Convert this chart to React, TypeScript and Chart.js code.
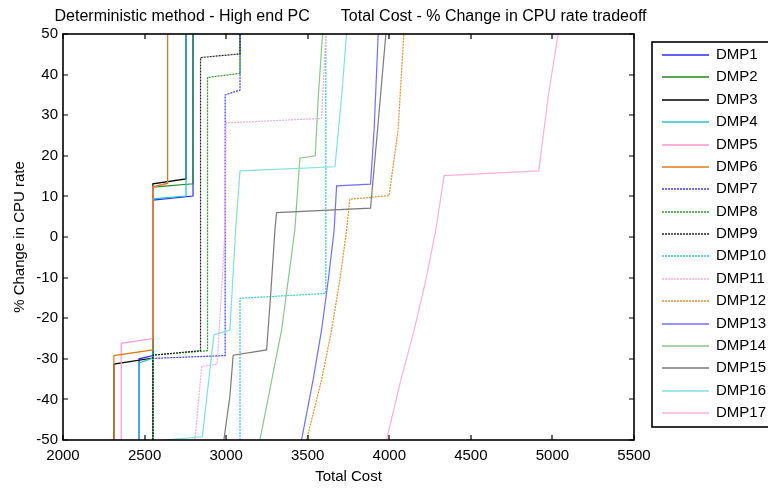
import React, { useEffect, useRef } from 'react';
import { Chart, registerables } from 'chart.js';

Chart.register(...registerables);

// ---- data (Total Cost vs % Change in CPU rate) ----
const seriesNames = ['DMP1', 'DMP2', 'DMP3', 'DMP4', 'DMP5', 'DMP6', 'DMP7', 'DMP8', 'DMP9', 'DMP10', 'DMP11', 'DMP12', 'DMP13', 'DMP14', 'DMP15', 'DMP16', 'DMP17'];

const dmp1Cost = [2466, 2466, 2551, 2551, 2797, 2797];
const dmp1Rate = [-50, -30, -29.2, 9.1, 10.1, 50];
const dmp2Cost = [2551, 2551, 2797, 2797];
const dmp2Rate = [-50, 12.3, 13.1, 50];
const dmp3Cost = [2312, 2312, 2551, 2551, 2754, 2754];
const dmp3Rate = [-50, -31.3, -29.8, 13.1, 14.3, 50];
const dmp4Cost = [2466, 2466, 2551, 2551, 2754, 2754];
const dmp4Rate = [-50, -31, -29.8, 9.4, 10.1, 50];
const dmp5Cost = [2357, 2357, 2551, 2551, 2641, 2641];
const dmp5Rate = [-50, -26.2, -25, 12.3, 13.3, 50];
const dmp6Cost = [2312, 2312, 2551, 2551, 2641, 2641];
const dmp6Rate = [-50, -29.2, -27.8, 12.4, 13.2, 50];
const dmp7Cost = [2551, 2551, 2994, 2994, 3085, 3085];
const dmp7Rate = [-50, -29.9, -29.2, 35, 36.2, 50];
const dmp8Cost = [2551, 2551, 2886, 2886, 3085, 3085];
const dmp8Rate = [-50, -29.1, -28, 39.3, 40.3, 50];
const dmp9Cost = [2551, 2551, 2843, 2843, 3085, 3085];
const dmp9Rate = [-50, -29.1, -28, 44.2, 45.1, 50];
const dmp10Cost = [3085, 3085, 3611, 3611];
const dmp10Rate = [-50, -15.1, -13.9, 50];
const dmp11Cost = [2809, 2850, 2945, 2993, 2999, 3585, 3611];
const dmp11Rate = [-50, -31.9, -31.3, 1.7, 28.1, 29.2, 50];
const dmp12Cost = [3493, 3585, 3646, 3697, 3738, 3758, 3999, 4054, 4089];
const dmp12Rate = [-50, -35.2, -22.9, -10.6, 1.7, 9.3, 10.2, 26.4, 50];
const dmp13Cost = [3462, 3533, 3585, 3626, 3662, 3677, 3885, 3907, 3932];
const dmp13Rate = [-50, -35.2, -22.9, -10.6, 1.7, 12.6, 13, 26.4, 50];
const dmp14Cost = [3207, 3340, 3421, 3452, 3546, 3565, 3591];
const dmp14Rate = [-50, -22.9, 1.7, 19.4, 20, 34.6, 50];
const dmp15Cost = [2986, 3023, 3043, 3248, 3272, 3299, 3309, 3885, 3928, 3979];
const dmp15Rate = [-50, -39.3, -29.1, -27.8, -14.7, 1.7, 6.0, 7.1, 26.4, 50];
const dmp16Cost = [2615, 2854, 2925, 3023, 3058, 3085, 3667, 3708, 3738];
const dmp16Rate = [-50, -49.2, -24.1, -22.9, 1.7, 16.3, 17.3, 34.6, 50];
const dmp17Cost = [3983, 4071, 4153, 4224, 4285, 4336, 4916, 4974, 5035];
const dmp17Rate = [-50, -35.2, -22.9, -10.6, 1.7, 15.1, 16.3, 34.6, 50];

const costSeries = [dmp1Cost, dmp2Cost, dmp3Cost, dmp4Cost, dmp5Cost, dmp6Cost, dmp7Cost, dmp8Cost, dmp9Cost, dmp10Cost, dmp11Cost, dmp12Cost, dmp13Cost, dmp14Cost, dmp15Cost, dmp16Cost, dmp17Cost];
const rateSeries = [dmp1Rate, dmp2Rate, dmp3Rate, dmp4Rate, dmp5Rate, dmp6Rate, dmp7Rate, dmp8Rate, dmp9Rate, dmp10Rate, dmp11Rate, dmp12Rate, dmp13Rate, dmp14Rate, dmp15Rate, dmp16Rate, dmp17Rate];

const xTickValues = [2000, 2500, 3000, 3500, 4000, 4500, 5000, 5500];
const yTickValues = [-50, -40, -30, -20, -10, 0, 10, 20, 30, 40, 50];

const titleText = 'Deterministic method - High end PC       Total Cost - % Change in CPU rate tradeoff';
const xTitle = 'Total Cost';
const yTitle = '% Change in CPU rate';

// ---- styles ----
const seriesColors = ['#2b2bff', '#1f8a1f', '#000000', '#22c4c4', '#ff99cc', '#e07a1a', '#3a3aff', '#2f9a2f', '#222222', '#33cccc', '#ffaad4', '#e89030', '#7070ff', '#8cc68c', '#7a7a7a', '#7fe0e0', '#ffb0d6'];
const seriesDashed = [false, false, false, false, false, false, true, true, true, true, true, true, false, false, false, false, false];

const FONT = '"Liberation Sans", Arial, Helvetica, sans-serif';

const framePlugin = {
  id: 'matlabFrame',
  beforeDraw(chart: any) {
    const { ctx } = chart;
    ctx.save();
    ctx.fillStyle = '#ffffff';
    ctx.fillRect(0, 0, chart.width, chart.height);
    ctx.restore();
  },
  afterDatasetsDraw(chart: any) {
    const { ctx, chartArea: a, scales } = chart;
    ctx.save();
    ctx.strokeStyle = '#000';
    ctx.lineWidth = 1.6;
    ctx.strokeRect(a.left, a.top, a.right - a.left, a.bottom - a.top);
    ctx.lineWidth = 1.2;
    ctx.beginPath();
    const tl = 5;
    scales.x.ticks.forEach((tk: any) => {
      const px = Math.round(scales.x.getPixelForValue(tk.value));
      ctx.moveTo(px, a.bottom);
      ctx.lineTo(px, a.bottom - tl);
      ctx.moveTo(px, a.top);
      ctx.lineTo(px, a.top + tl);
    });
    scales.y.ticks.forEach((tk: any) => {
      const py = Math.round(scales.y.getPixelForValue(tk.value));
      ctx.moveTo(a.left, py);
      ctx.lineTo(a.left + tl, py);
      ctx.moveTo(a.right, py);
      ctx.lineTo(a.right - tl, py);
    });
    ctx.stroke();
    ctx.restore();
  },
  afterDraw(chart: any) {
    const { ctx, chartArea: a } = chart;
    ctx.save();
    ctx.fillStyle = '#000';
    ctx.font = '16px ' + FONT;
    ctx.textAlign = 'center';
    ctx.textBaseline = 'middle';
    ctx.fillText(titleText, (a.left + a.right) / 2 + 2, 17);
    // legend
    const boxL = a.right + 18;
    const boxT = 42;
    const boxB = 427;
    ctx.strokeStyle = '#000';
    ctx.lineWidth = 1.6;
    ctx.strokeRect(boxL, boxT, chart.width + 10 - boxL, boxB - boxT);
    const step = (413 - 55) / 16;
    chart.data.datasets.forEach((ds: any, i: number) => {
      const y = Math.round(55 + i * step);
      ctx.save();
      ctx.strokeStyle = ds.borderColor;
      ctx.lineWidth = 1.6;
      ctx.setLineDash(ds.borderDash || []);
      ctx.beginPath();
      ctx.moveTo(boxL + 10, y);
      ctx.lineTo(boxL + 57, y);
      ctx.stroke();
      ctx.restore();
      ctx.fillStyle = '#000';
      ctx.font = '15px ' + FONT;
      ctx.textAlign = 'left';
      ctx.textBaseline = 'middle';
      ctx.fillText(ds.label, boxL + 64, y);
    });
    ctx.restore();
  },
};

export default function App() {
  const canvasRef = useRef<HTMLCanvasElement>(null);

  useEffect(() => {
    if (!canvasRef.current) return;
    const n = seriesNames.length;
    const datasets = seriesNames.map((name, i) => ({
      label: name,
      data: costSeries[i].map((c, k) => ({ x: c, y: rateSeries[i][k] })),
      borderColor: seriesColors[i],
      backgroundColor: seriesColors[i],
      borderWidth: 1.2,
      borderDash: seriesDashed[i] ? [2, 1] : [],
      showLine: true,
      pointRadius: 0,
      pointHoverRadius: 0,
      tension: 0,
      fill: false,
      order: n - i,
    }));

    const chart = new Chart(canvasRef.current, {
      type: 'scatter',
      data: { datasets },
      options: {
        animation: false,
        responsive: false,
        maintainAspectRatio: false,
        devicePixelRatio: 1,
        layout: { padding: { left: 0, top: 34, right: 134, bottom: 0 } },
        plugins: {
          legend: { display: false },
          title: { display: false },
          tooltip: { enabled: false },
        },
        scales: {
          x: {
            type: 'linear',
            min: 2000,
            max: 5500,
            afterFit: (s: any) => { s.height = 49; },
            afterBuildTicks: (s: any) => { s.ticks = xTickValues.map((v) => ({ value: v })); },
            grid: { display: false, drawTicks: false },
            border: { display: false },
            ticks: {
              color: '#000',
              padding: 7,
              font: { family: FONT, size: 15 },
              maxRotation: 0,
              autoSkip: false,
              callback: (v: any) => String(v),
            },
            title: {
              display: true,
              text: xTitle,
              color: '#000',
              font: { family: FONT, size: 15 },
              padding: { top: 0, bottom: 3 },
            },
          },
          y: {
            type: 'linear',
            min: -50,
            max: 50,
            afterFit: (s: any) => { s.width = 63; },
            afterBuildTicks: (s: any) => { s.ticks = yTickValues.map((v) => ({ value: v })); },
            grid: { display: false, drawTicks: false },
            border: { display: false },
            ticks: {
              color: '#000',
              padding: 5,
              font: { family: FONT, size: 15 },
              autoSkip: false,
              callback: (v: any) => String(v),
            },
            title: {
              display: true,
              text: yTitle,
              color: '#000',
              font: { family: FONT, size: 15 },
              padding: { top: 11, bottom: 0 },
            },
          },
        },
      },
      plugins: [framePlugin],
    });
    return () => chart.destroy();
  }, []);

  return (
    <div style={{ position: 'absolute', left: 0, top: 0, width: 768, height: 489 }}>
      <canvas ref={canvasRef} width={768} height={489} style={{ display: 'block' }} />
    </div>
  );
}
